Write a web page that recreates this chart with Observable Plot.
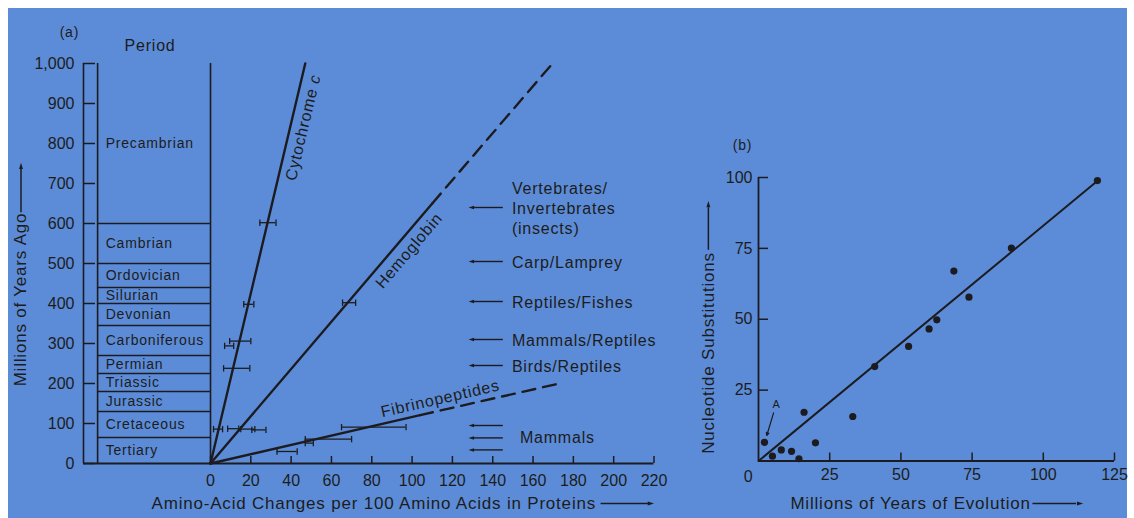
<!DOCTYPE html>
<html><head><meta charset="utf-8">
<script src="https://cdn.jsdelivr.net/npm/d3@7"></script>
<script src="https://cdn.jsdelivr.net/npm/@observablehq/plot@0.6"></script>
<style>
html,body{margin:0;padding:0;background:#fff;}
#wrap{position:relative;width:1134px;height:518px;overflow:hidden;}
#bg{position:absolute;left:8px;top:8px;width:1119px;height:510px;background:#5c8cd7;}
#a,#b{position:absolute;top:0;}
#a{left:0;} #b{left:690px;}
svg text{letter-spacing:0.8px;}
svg g[aria-label$="tick label"] text{letter-spacing:0;}
</style></head><body>
<div id="wrap"><div id="bg"></div><div id="a"></div><div id="b"></div></div>
<script>
// ---------- Panel (a) data ----------
const periodNames  = ["Tertiary","Cretaceous","Jurassic","Triassic","Permian","Carboniferous","Devonian","Silurian","Ordovician","Cambrian","Precambrian"];
const periodStarts = [0,65,130,180,225,270,345,400,440,500,600];
const periodEnds   = [65,130,180,225,270,345,400,440,500,600,1000];

const yTicksA = [0,100,200,300,400,500,600,700,800,900,1000];
const xTicksA = [0,20,40,60,80,100,120,140,160,180,200,220];

// protein clock lines (amino-acid changes, millions of years ago)
const cytoX = [0,47],      cytoY = [0,1000];
const hemoSolidX = [0,110], hemoSolidY = [0,650];
const hemoDashX = [110,171], hemoDashY = [650,1008];
const fibSolidX = [0,104],  fibSolidY = [0,121];
const fibDashX = [104,173], fibDashY = [121,200];

// error bars
const barAge = [602,398,306,294,238,86, 402,87,86,84, 91,61,51,30];
const barLo  = [24.5,16.5,9.5,7,6.5,1.5, 65.5,8.5,15,20.5, 65,47,47,33];
const barHi  = [32.5,21.5,20,11.5,19.5,6, 72,14,22,27.5, 97,70,51,43];

// divergence events
const eventLabels    = ["Vertebrates/\nInvertebrates\n(insects)","Carp/Lamprey","Reptiles/Fishes","Mammals/Reptiles","Birds/Reptiles","Mammals"];
const eventLabelAges = [640,505,405,310,245,64];
const eventArrowAges = [640,505,405,310,245,95,64,34];

// ---------- Panel (b) data ----------
const evoYears = [2.1,4.9,8.0,11.6,14.2,16.0,20.0,33.1,40.8,52.7,59.9,62.6,68.6,73.9,88.8,119];
const nucSubs  = [6.6,1.7,3.9,3.4,0.8,17.2,6.4,15.7,33.3,40.4,46.6,49.8,67.0,57.8,75.1,98.9];
const fitX = [0,119.5], fitY = [0,99.2];
const xTicksB = [25,50,75,100,125];
const yTicksB = [25,50,75,100];

// ---------- build ----------
const ink = "#1c1c20";
const font = "'Liberation Sans', Arial, Helvetica, sans-serif";
const periods = periodNames.map((name,i)=>({name, start: periodStarts[i], end: periodEnds[i]}));
const bars = barAge.map((y,i)=>({y, lo: barLo[i], hi: barHi[i]}));
const pts = (xs, ys) => xs.map((x,i)=>({x, y: ys[i]}));
const events = eventLabels.map((name,i)=>({name, age: eventLabelAges[i]}));
const arrows = eventArrowAges.map(age=>({age}));
const vbar = {draw(ctx, size){ const h = Math.sqrt(size/Math.PI); ctx.moveTo(0,-h); ctx.lineTo(0,h); }};
// filled arrow head: tip at origin, pointing up
const head = {draw(ctx, size){ const s = Math.sqrt(size/Math.PI); ctx.moveTo(0,0); ctx.lineTo(s*0.75, s*2.4); ctx.lineTo(-s*0.75, s*2.4); ctx.closePath(); }};
const headOpts = (rot) => ({symbol: head, r: 2.6, fill: ink, stroke: "none", rotate: rot});

const A = Plot.plot({
  width: 690, height: 518,
  marginLeft: 83, marginRight: 36.5, marginTop: 63, marginBottom: 55,
  x: {domain: [-63, 220], label: null},
  y: {domain: [0, 1000], label: null},
  style: {background: "transparent", fontFamily: font, fontSize: "16px", color: ink},
  marks: [
    // period column
    Plot.ruleY(periods.slice(1), {y: "start", x1: -56, x2: 0, stroke: ink, strokeWidth: 1.6}),
    Plot.ruleX([-56, 0], {y1: 0, y2: 1000, stroke: ink, strokeWidth: 1.6}),
    Plot.ruleX([-63], {y1: 0, y2: 1000, stroke: ink, strokeWidth: 1.6}),
    Plot.ruleY([0], {x1: -63, x2: 220, stroke: ink, strokeWidth: 2}),
    Plot.text(periods, {x: -52, y: d => (d.start + d.end) / 2, text: "name", textAnchor: "start", fontSize: 14}),
    Plot.text(["Period"], {x: -30, y: 1045, fontSize: 16}),
    Plot.text(["(a)"], {x: -70, y: 1078, fontSize: 14}),
    // axes
    Plot.axisY({ticks: yTicksA, tickFormat: d3.format(","), tickSize: -12, tickPadding: 21, strokeWidth: 1.5, label: null, fontSize: 16}),
    Plot.axisX({ticks: xTicksA, tickSize: -7, tickPadding: 18, strokeWidth: 1.5, label: null, fontSize: 16}),
    Plot.text(["Millions of Years Ago"], {x: -94, y: 410, rotate: -90, fontSize: 17}),
    Plot.link([0], {x1: -94, x2: -94, y1: 628, y2: 745, strokeWidth: 1.5, stroke: ink}),
    Plot.dot([0], {x: -94, y: 752, ...headOpts(0)}),
    Plot.text(["Amino-Acid Changes per 100 Amino Acids in Proteins"], {x: 81, y: -100, fontSize: 17}),
    Plot.link([0], {x1: 193.5, x2: 217, y1: -100, y2: -100, strokeWidth: 1.5, stroke: ink}),
    Plot.dot([0], {x: 220, y: -100, ...headOpts(90)}),
    // error bars
    Plot.ruleY(bars, {y: "y", x1: "lo", x2: "hi", stroke: ink, strokeWidth: 1.3}),
    Plot.dot(bars, {x: "lo", y: "y", symbol: vbar, r: 3.2, fill: "none", stroke: ink, strokeWidth: 1.3}),
    Plot.dot(bars, {x: "hi", y: "y", symbol: vbar, r: 3.2, fill: "none", stroke: ink, strokeWidth: 1.3}),
    // clock lines
    Plot.line(pts(cytoX, cytoY), {x: "x", y: "y", stroke: ink, strokeWidth: 2.4}),
    Plot.line(pts(hemoSolidX, hemoSolidY), {x: "x", y: "y", stroke: ink, strokeWidth: 2.4}),
    Plot.line(pts(hemoDashX, hemoDashY), {x: "x", y: "y", stroke: ink, strokeWidth: 2.4, strokeDasharray: "13,8"}),
    Plot.line(pts(fibSolidX, fibSolidY), {x: "x", y: "y", stroke: ink, strokeWidth: 2.4}),
    Plot.line(pts(fibDashX, fibDashY), {x: "x", y: "y", stroke: ink, strokeWidth: 2.4, strokeDasharray: "13,8"}),
    Plot.text(["Cytochrome c"], {x: 46, y: 840, rotate: -76.7, fontSize: 16}),
    Plot.text(["Hemoglobin"], {x: 98.5, y: 532, rotate: -49.5, fontSize: 16}),
    Plot.text(["Fibrinopeptides"], {x: 114, y: 162, rotate: -12.9, fontSize: 16}),
    // event arrows and labels
    Plot.link(arrows, {x1: 145, x2: 130, y1: "age", y2: "age", strokeWidth: 1.4, stroke: ink}),
    Plot.dot(arrows, {x: 128, y: "age", ...headOpts(-90), r: 2.3}),
    Plot.text(events, {filter: d => d.name !== "Mammals", x: 149.5, y: "age", text: "name", textAnchor: "start", fontSize: 16, lineHeight: 1.25}),
    Plot.text(events, {filter: d => d.name === "Mammals", x: 149.5, dx: 8, y: "age", text: "name", textAnchor: "start", fontSize: 16})
  ]
});
// italic "c" in the Cytochrome c label
for (const t of A.querySelectorAll("text")) {
  if (t.textContent === "Cytochrome c") {
    t.textContent = "Cytochrome ";
    const ts = document.createElementNS("http://www.w3.org/2000/svg", "tspan");
    ts.setAttribute("font-style", "italic");
    ts.textContent = "c";
    t.appendChild(ts);
  }
}
document.getElementById("a").append(A);

const B = Plot.plot({
  width: 444, height: 518,
  marginLeft: 68, marginRight: 20, marginTop: 177, marginBottom: 57.5,
  x: {domain: [0, 125], label: null},
  y: {domain: [0, 100], label: null},
  style: {background: "transparent", fontFamily: font, fontSize: "16px", color: ink},
  marks: [
    Plot.ruleY([0], {x1: 0, x2: 125, stroke: ink, strokeWidth: 1.8}),
    Plot.ruleX([0], {y1: 0, y2: 100, stroke: ink, strokeWidth: 1.8}),
    Plot.axisX({ticks: xTicksB, tickSize: -8, tickPadding: 15.5, strokeWidth: 1.5, label: null, fontSize: 16}),
    Plot.axisY({ticks: yTicksB, tickSize: -10, tickPadding: 16, strokeWidth: 1.5, label: null, fontSize: 16}),
    Plot.text(["0"], {x: 0, y: 0, dx: -10, dy: 15.5, fontSize: 16}),
    Plot.text(["(b)"], {x: -5.6, y: 111.3, fontSize: 14}),
    Plot.text(["Nucleotide Substitutions"], {x: -17.6, y: 38.1, rotate: -90, fontSize: 17}),
    Plot.link([0], {x1: -17.6, x2: -17.6, y1: 74.5, y2: 89.5, strokeWidth: 1.5, stroke: ink}),
    Plot.dot([0], {x: -17.6, y: 91.7, ...headOpts(0)}),
    Plot.text(["Millions of Years of Evolution"], {x: 53.4, y: -15, fontSize: 17}),
    Plot.link([0], {x1: 96.2, x2: 111.5, y1: -15, y2: -15, strokeWidth: 1.5, stroke: ink}),
    Plot.dot([0], {x: 114, y: -15, ...headOpts(90)}),
    Plot.line(pts(fitX, fitY), {x: "x", y: "y", stroke: ink, strokeWidth: 2}),
    Plot.dot(pts(evoYears, nucSubs), {x: "x", y: "y", r: 3.6, fill: ink}),
    Plot.text(["A"], {x: 6.3, y: 20, fontSize: 11}),
    Plot.arrow([0], {x1: 5.3, y1: 17, x2: 2.9, y2: 9, headLength: 4, headAngle: 50, strokeWidth: 1.2, stroke: ink})
  ]
});
document.getElementById("b").append(B);
</script>
</body></html>
